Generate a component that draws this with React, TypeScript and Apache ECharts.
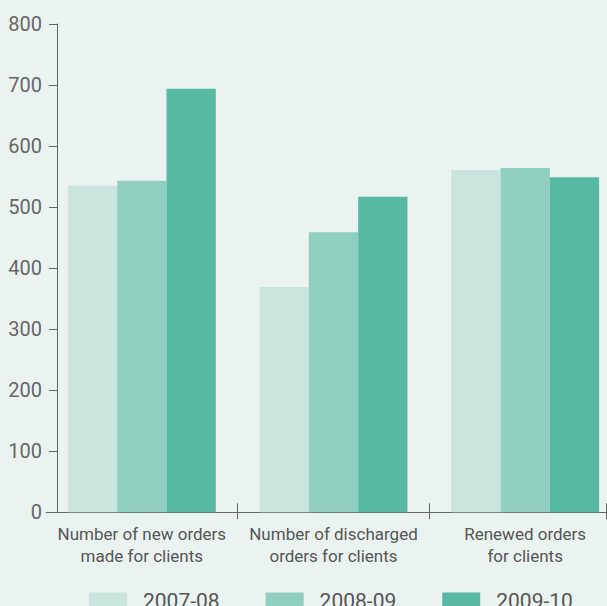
import React, { useEffect, useRef } from "react";
import * as echarts from "echarts";

const categories = [
  "Number of new orders\nmade for clients",
  "Number of discharged\norders for clients",
  "Renewed orders\nfor clients",
];
const years = ["2007-08", "2008-09", "2009-10"];
const values2007 = [535, 369, 561];
const values2008 = [543, 459, 564];
const values2009 = [694, 517, 549];
const yTicks = [0, 100, 200, 300, 400, 500, 600, 700, 800];
// category boundaries where the x axis gets a crossing tick mark
const boundaryTicks = [1, 2, 2.922];

const colors = ["#C9E4DD", "#90CFBF", "#57B9A1"];
const BG = "#EBF3F0";
const AXIS = "#666";
const FONT = "Roboto, 'Noto Sans', sans-serif";

export default function App() {
  const ref = useRef<HTMLDivElement>(null);

  useEffect(() => {
    if (!ref.current) return;
    const chart = echarts.init(ref.current, null, { renderer: "svg" });
    const seriesValues = [values2007, values2008, values2009];

    chart.setOption({
      animation: false,
      backgroundColor: BG,
      color: colors,
      textStyle: { fontFamily: FONT },
      // the plot runs past the visible right edge, which is cropped by the wrapper
      grid: { left: 46, width: 575, top: 24, bottom: 93.7, containLabel: false },
      legend: {
        left: 89,
        top: 590,
        padding: 0,
        itemWidth: 38,
        itemHeight: 16,
        itemGap: 46,
        icon: "rect",
        data: years,
        textStyle: {
          fontSize: 21,
          color: "#555",
          fontFamily: FONT,
          padding: [0, 0, 0, 11],
        },
      },
      xAxis: [
        {
          type: "category",
          data: categories,
          axisLine: { lineStyle: { color: AXIS, width: 1 } },
          axisTick: { show: false },
          axisLabel: {
            interval: 0,
            fontSize: 17,
            lineHeight: 22,
            color: "#555",
            margin: 11,
            fontFamily: FONT,
          },
        },
        {
          // tick-only axis marking the category boundaries
          type: "value",
          min: 0,
          max: categories.length,
          position: "bottom",
          offset: -9,
          axisLine: { show: false },
          splitLine: { show: false },
          axisLabel: { show: false },
          axisTick: {
            show: true,
            length: 16,
            customValues: boundaryTicks,
            lineStyle: { color: AXIS, width: 1 },
          },
        },
      ],
      yAxis: {
        type: "value",
        min: yTicks[0],
        max: yTicks[yTicks.length - 1],
        interval: 100,
        offset: -11,
        axisLine: { show: true, lineStyle: { color: AXIS, width: 1 } },
        axisTick: { show: true, length: 8, lineStyle: { color: AXIS } },
        splitLine: { show: false },
        axisLabel: {
          fontSize: 20,
          color: "#666",
          margin: 15,
          fontFamily: FONT,
        },
      },
      series: years.map((name, i) => ({
        name,
        type: "bar",
        xAxisIndex: 0,
        data: seriesValues[i],
        barWidth: 49.3,
        barGap: "0%",
        itemStyle: { color: colors[i] },
      })),
    });

    return () => chart.dispose();
  }, []);

  return (
    <div
      style={{
        position: "fixed",
        left: 0,
        top: 0,
        width: 607,
        height: 606,
        overflow: "hidden",
        background: BG,
      }}
    >
      <div ref={ref} style={{ width: 630, height: 606 }} />
    </div>
  );
}
